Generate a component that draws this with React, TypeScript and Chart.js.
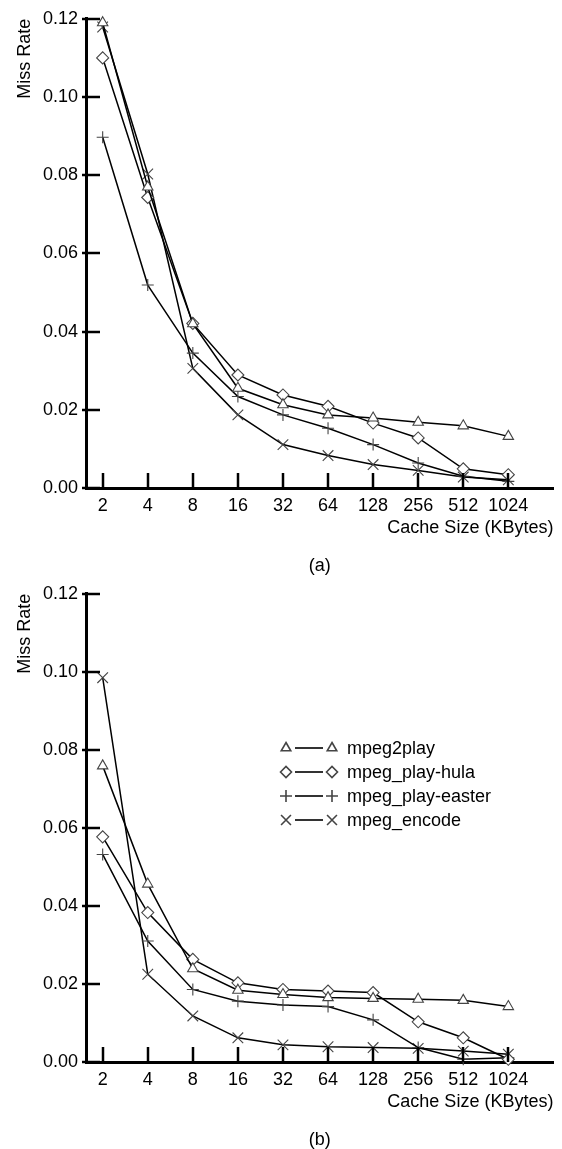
import { useEffect, useRef } from 'react';
import { Chart, registerables } from 'chart.js';
import { drawPoint } from 'chart.js/helpers';

Chart.register(...registerables);

// ---- data ----
const cacheSizes = ['2', '4', '8', '16', '32', '64', '128', '256', '512', '1024'];
const yTicks = [0, 0.02, 0.04, 0.06, 0.08, 0.1, 0.12];
const seriesNames = ['mpeg2play', 'mpeg_play-hula', 'mpeg_play-easter', 'mpeg_encode'];
const pointStyles = ['triangle', 'rectRot', 'cross', 'crossRot'];

// (a)
const aMpeg2play = [0.119, 0.077, 0.042, 0.0255, 0.0213, 0.0187, 0.0179, 0.0168, 0.0159, 0.0132];
const aHula = [0.110, 0.0743, 0.0421, 0.0289, 0.0238, 0.0209, 0.0166, 0.0128, 0.0049, 0.0034];
const aEaster = [0.0897, 0.0519, 0.0345, 0.0234, 0.0187, 0.0153, 0.0111, 0.0064, 0.003, 0.0017];
const aEncode = [0.1179, 0.0803, 0.0306, 0.0187, 0.0111, 0.0083, 0.006, 0.0045, 0.0028, 0.0021];

// (b)
const bMpeg2play = [0.0759, 0.0456, 0.0239, 0.0184, 0.0173, 0.0165, 0.0163, 0.0161, 0.0158, 0.0142];
const bHula = [0.0577, 0.0383, 0.0263, 0.0203, 0.0186, 0.0182, 0.0178, 0.0103, 0.0062, 0.0007];
const bEaster = [0.0532, 0.031, 0.0186, 0.0156, 0.0146, 0.0142, 0.0108, 0.0037, 0.0007, 0.0011];
const bEncode = [0.0985, 0.0225, 0.0118, 0.0062, 0.0044, 0.0039, 0.0037, 0.0035, 0.0028, 0.002];

const FONT = "'Liberation Sans', Arial, Helvetica, sans-serif";

const axisDecor = {
  id: 'axisDecor',
  afterDraw(chart: any, _args: any, opts: any) {
    const { ctx, chartArea, scales } = chart;
    const xs = scales.x;
    const ys = scales.y;
    ctx.save();
    ctx.strokeStyle = '#000';
    ctx.lineWidth = 2.5;
    ctx.lineCap = 'butt';
    const line = (x1: number, y1: number, x2: number, y2: number) => {
      ctx.beginPath();
      ctx.moveTo(x1, y1);
      ctx.lineTo(x2, y2);
      ctx.stroke();
    };
    yTicks.forEach((v) => {
      const py = Math.round(ys.getPixelForValue(v));
      line(chartArea.left - 4, py, chartArea.left + 14, py);
    });
    cacheSizes.forEach((_c, i) => {
      const px = Math.round(xs.getPixelForValue(i));
      line(px, chartArea.bottom, px, chartArea.bottom - 15);
    });
    // caption
    ctx.fillStyle = '#000';
    ctx.font = `18px ${FONT}`;
    ctx.textAlign = 'center';
    ctx.textBaseline = 'middle';
    ctx.fillText(opts.caption, (chartArea.left + chartArea.right) / 2, chartArea.bottom + 78);

    if (opts.legend) {
      const x0 = opts.legendX;
      let y0 = opts.legendY;
      chart.data.datasets.forEach((ds: any) => {
        ctx.strokeStyle = '#000';
        ctx.lineWidth = 1.6;
        line(x0 + 9, y0, x0 + 37, y0);
        ctx.strokeStyle = '#444';
        ctx.fillStyle = '#fff';
        const r = ds.pointStyle === 'crossRot' ? 7 : ds.pointStyle === 'cross' ? 6 : 5.5;
        const po = { pointStyle: ds.pointStyle, radius: r, borderWidth: 1, rotation: 0 };
        drawPoint(ctx, po, x0, y0);
        drawPoint(ctx, po, x0 + 46, y0);
        ctx.fillStyle = '#000';
        ctx.textAlign = 'left';
        ctx.textBaseline = 'middle';
        ctx.font = `18px ${FONT}`;
        ctx.fillText(ds.label, x0 + 61, y0 + 1);
        y0 += 24;
      });
    }
    ctx.restore();
  },
};

type PanelProps = {
  series: number[][];
  caption: string;
  legend: boolean;
  height: number;
  padTop: number;
};

function Panel({ series, caption, legend, height, padTop }: PanelProps) {
  const ref = useRef<HTMLCanvasElement | null>(null);
  useEffect(() => {
    if (!ref.current) return;
    const datasets = series.map((vals, k) => ({
      label: seriesNames[k],
      data: cacheSizes.map((_c, i) => ({ x: i, y: vals[i] })),
      borderColor: '#000',
      borderWidth: 1.5,
      pointStyle: pointStyles[k],
      pointRadius: k === 3 ? 7.5 : 6,
      pointBorderColor: '#444',
      pointBackgroundColor: '#fff',
      pointBorderWidth: 1.1,
      tension: 0,
      fill: false,
      clip: false,
    }));
    const chart = new Chart(ref.current, {
      type: 'line',
      data: { datasets },
      plugins: [axisDecor],
      options: {
        animation: false,
        responsive: false,
        devicePixelRatio: 1,
        events: [],
        layout: { padding: { top: padTop, right: 2, left: 0, bottom: 0 } },
        plugins: {
          legend: { display: false },
          tooltip: { enabled: false },
          axisDecor: { caption, legend, legendX: 286, legendY: 173 },
        } as any,
        scales: {
          x: {
            type: 'linear',
            min: -0.37,
            max: 10,
            afterBuildTicks: (s: any) => {
              s.ticks = cacheSizes.map((_c, i) => ({ value: i }));
            },
            afterFit: (s: any) => {
              s.height = 87;
            },
            grid: { display: false, drawTicks: false },
            border: { display: true, color: '#000', width: 3 },
            ticks: {
              autoSkip: false,
              maxRotation: 0,
              padding: 7,
              color: '#000',
              font: { family: FONT, size: 18 },
              callback: (v: any) => cacheSizes[v] ?? '',
            },
            title: {
              display: true,
              text: 'Cache Size (KBytes)',
              align: 'end',
              color: '#000',
              font: { family: FONT, size: 18 },
              padding: { top: 0, bottom: 36 },
            },
          },
          y: {
            type: 'linear',
            min: 0,
            max: 0.12,
            afterBuildTicks: (s: any) => {
              s.ticks = yTicks.map((v) => ({ value: v }));
            },
            afterFit: (s: any) => {
              s.width = 86;
            },
            grid: { display: false, drawTicks: false },
            border: { display: true, color: '#000', width: 3 },
            ticks: {
              padding: 8,
              color: '#000',
              font: { family: FONT, size: 18 },
              callback: (v: any) => Number(v).toFixed(2),
            },
            title: {
              display: true,
              text: 'Miss Rate',
              align: 'end',
              color: '#000',
              font: { family: FONT, size: 18 },
              padding: { top: 14, bottom: 0 },
            },
          },
        },
      } as any,
    });
    return () => chart.destroy();
  }, []);
  return <canvas ref={ref} width={562} height={height} style={{ display: 'block' }} />;
}

export default function App() {
  return (
    <div style={{ position: 'absolute', top: 0, left: 0, width: 562, height: 1149, background: '#fff', overflow: 'hidden' }}>
      <Panel series={[aMpeg2play, aHula, aEaster, aEncode]} caption="(a)" legend={false} height={575} padTop={17} />
      <Panel series={[bMpeg2play, bHula, bEaster, bEncode]} caption="(b)" legend={true} height={574} padTop={16} />
    </div>
  );
}
